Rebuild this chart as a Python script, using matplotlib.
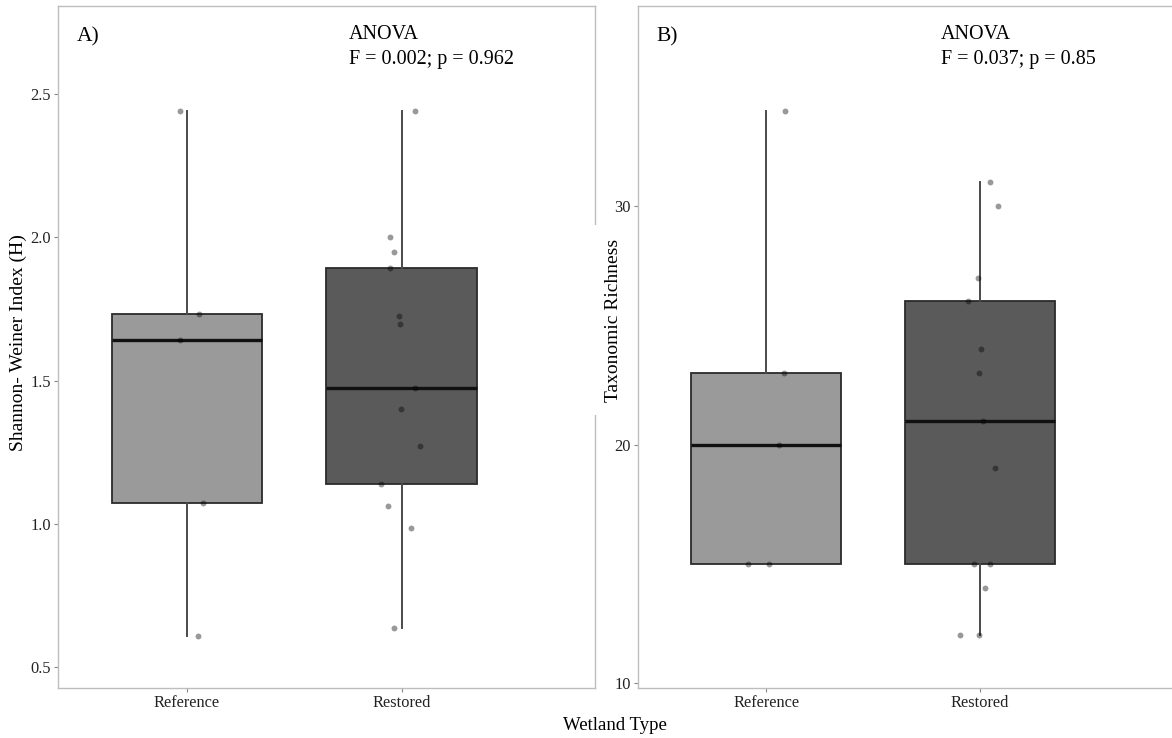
import matplotlib
import matplotlib.pyplot as plt
import numpy as np

matplotlib.use('Agg')

plt.rcParams['font.family'] = ['Liberation Serif', 'DejaVu Serif']

categories = ["Reference", "Restored"]

# panel A - Shannon-Weiner index per wetland
shannon_ref = [2.44, 1.731, 1.643, 1.073, 0.608]
shannon_ref_jit = [-0.033, 0.056, -0.033, 0.075, 0.051]
shannon_res = [2.44, 2.0, 1.948, 1.895, 1.724, 1.699, 1.476, 1.402, 1.273, 1.140, 1.063, 0.986, 0.636]
shannon_res_jit = [0.061, -0.056, -0.037, -0.056, -0.014, -0.009, 0.061, -0.005, 0.084, -0.098, -0.065, 0.042, -0.037]

# panel B - taxonomic richness per wetland
rich_ref = [34, 23, 20, 15, 15]
rich_ref_jit = [0.089, 0.084, 0.061, -0.084, 0.014]
rich_res = [31, 30, 27, 26, 24, 23, 21, 19, 15, 15, 14, 12, 12]
rich_res_jit = [0.047, 0.085, -0.009, -0.056, 0.005, -0.005, 0.014, 0.070, -0.028, 0.047, 0.023, -0.094, -0.005]

box_colors = ['#9a9a9a', '#5a5a5a']
frame_col = '#bdbdbd'


def draw_panel(ax, groups, jitters, ylim, yticks, tag, stats):
    bp = ax.boxplot(groups, positions=[0, 1], widths=0.7, whis=1.5,
                    patch_artist=True, showcaps=False, showfliers=False,
                    boxprops=dict(edgecolor='#2b2b2b', linewidth=1.3),
                    whiskerprops=dict(color='#4a4a4a', linewidth=1.4),
                    medianprops=dict(color='#111111', linewidth=2.4))
    for patch, c in zip(bp['boxes'], box_colors):
        patch.set_facecolor(c)

    for i, (vals, jit) in enumerate(zip(groups, jitters)):
        ax.scatter(i + np.array(jit), vals, s=18, color='black', alpha=0.4,
                   linewidths=0, zorder=5)

    ax.set_xlim(-0.6, 1.9)
    ax.set_ylim(*ylim)
    ax.set_xticks([0, 1], categories)
    ax.set_yticks(yticks)
    ax.tick_params(length=3, color='#888888', labelsize=11.8,
                   labelcolor='#222222', pad=2)
    for sp in ax.spines.values():
        sp.set_color(frame_col)
        sp.set_linewidth(1.0)

    ax.text(0.035, 0.955, tag, transform=ax.transAxes, fontsize=15.5,
            va='center', ha='left')
    ax.text(stats[0], 0.972, stats[1], transform=ax.transAxes, fontsize=14.5,
            va='top', ha='left', linespacing=1.45)
    return ax


fig = plt.figure(figsize=(11.72, 7.38), dpi=100)
ax1 = fig.add_axes([58 / 1172, 50 / 738, 537 / 1172, 682 / 738])
ax2 = fig.add_axes([638 / 1172, 50 / 738, 534 / 1172, 682 / 738])

draw_panel(ax1, [shannon_ref, shannon_res], [shannon_ref_jit, shannon_res_jit],
           (0.427, 2.808), [0.5, 1.0, 1.5, 2.0, 2.5], "A)",
           (0.542, "ANOVA\nF = 0.002; p = 0.962"))
ax1.set_yticklabels(["0.5", "1.0", "1.5", "2.0", "2.5"])

draw_panel(ax2, [rich_ref, rich_res], [rich_ref_jit, rich_res_jit],
           (9.79, 38.39), [10, 20, 30], "B)",
           (0.567, "ANOVA\nF = 0.037; p = 0.85"))
ax2.spines['right'].set_visible(False)

fig.text(18 / 1172, 1 - 343 / 738, "Shannon- Weiner Index (H)", rotation=90,
         ha='center', va='center', fontsize=14)
fig.text(613 / 1172, 1 - 320 / 738, "Taxonomic Richness", rotation=90,
         ha='center', va='center', fontsize=14,
         bbox=dict(facecolor='white', edgecolor='none', pad=10))
fig.text(615 / 1172, 1 - 725 / 738, "Wetland Type", ha='center', va='center',
         fontsize=13.5)

fig.savefig('out.png', dpi=100)
